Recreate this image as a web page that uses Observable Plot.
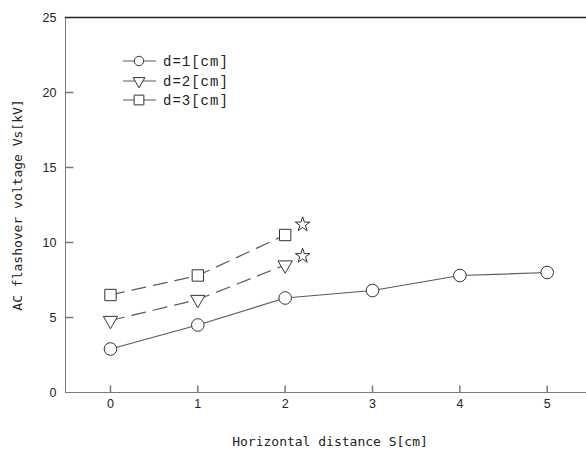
<!DOCTYPE html>
<html>
<head>
<meta charset="utf-8">
<script src="https://cdn.jsdelivr.net/npm/d3@7"></script>
<script src="https://cdn.jsdelivr.net/npm/@observablehq/plot@0.6"></script>
<style>
  body { margin: 0; background: #fff; }
  #chart { position: relative; width: 586px; height: 450px; }
</style>
</head>
<body>
<div id="chart"></div>
<script>
// ---- data ----
const distances = [0, 1, 2, 3, 4, 5];
const seriesNames = ["d=1[cm]", "d=2[cm]", "d=3[cm]"];
const d1Values = [2.9, 4.5, 6.3, 6.8, 7.8, 8.0];
const d2Values = [4.8, 6.2, 8.5];
const d3Values = [6.5, 7.8, 10.5];
const starX = [2.2, 2.2];
const starY = [11.2, 9.1];
const xTicks = [0, 1, 2, 3, 4, 5];
const yTicks = [0, 5, 10, 15, 20, 25];
const xLabel = "Horizontal distance S[cm]";
const yLabel = "AC flashover voltage Vs[kV]";

const d1 = d1Values.map((v, i) => ({x: distances[i], y: v}));
const d2 = d2Values.map((v, i) => ({x: distances[i], y: v}));
const d3s = d3Values.map((v, i) => ({x: distances[i], y: v}));
const stars = starX.map((x, i) => ({x, y: starY[i]}));

const lineColor = "#5a5a5a";
const markColor = "#333";
const axisColor = "#7a7a7a";
const tickFont = "Liberation Sans, Arial, sans-serif";
const monoFont = "DejaVu Sans Mono, monospace";

// custom inward tick symbols
const yTickSym = {draw(ctx) { ctx.moveTo(0, 0); ctx.lineTo(8, 0); }};
const xTickSym = {draw(ctx) { ctx.moveTo(0, 0); ctx.lineTo(0, -7); }};

const plot = Plot.plot({
  width: 586,
  height: 450,
  marginLeft: 65,
  marginRight: 0,
  marginTop: 17,
  marginBottom: 58,
  x: {domain: [-0.515, 5.45]},
  y: {domain: [0, 25]},
  style: {background: "#fff"},
  marks: [
    Plot.frame({anchor: "left", stroke: axisColor}),
    Plot.frame({anchor: "bottom", stroke: axisColor}),
    Plot.frame({anchor: "top", stroke: "#222", strokeWidth: 1.5}),
    Plot.dot(yTicks.slice(1, -1), {y: d => d, frameAnchor: "left", symbol: yTickSym, stroke: axisColor, r: 1}),
    Plot.dot(xTicks, {x: d => d, frameAnchor: "bottom", symbol: xTickSym, stroke: axisColor, r: 1}),
    Plot.axisY({ticks: yTicks, tickFormat: d => String(d), tickSize: 0, tickPadding: 9, fontSize: 12.5, fontFamily: tickFont, fill: "#222", label: null}),
    Plot.axisX({ticks: xTicks, tickFormat: d => String(d), tickSize: 0, tickPadding: 7, fontSize: 12.5, fontFamily: tickFont, fill: "#222", label: null}),
    Plot.text([xLabel], {frameAnchor: "bottom", dy: 49, dx: 4, text: d => d, textAnchor: "middle", lineAnchor: "middle", fontFamily: monoFont, fontSize: 13, fill: "#222"}),
    Plot.text([yLabel], {frameAnchor: "left", dx: -48, rotate: -90, text: d => d, textAnchor: "middle", lineAnchor: "middle", fontFamily: monoFont, fontSize: 13, fill: "#222"}),
    Plot.line(d1, {x: "x", y: "y", stroke: lineColor, strokeWidth: 1.2}),
    Plot.line(d2, {x: "x", y: "y", stroke: lineColor, strokeWidth: 1.2, strokeDasharray: "14,8"}),
    Plot.line(d3s, {x: "x", y: "y", stroke: lineColor, strokeWidth: 1.2, strokeDasharray: "14,8"}),
    Plot.dot(d1, {x: "x", y: "y", symbol: "circle", r: 6.3, fill: "#fff", stroke: markColor, strokeWidth: 1}),
    Plot.dot(d2, {x: "x", y: "y", symbol: "triangle", rotate: 180, r: 5.3, fill: "#fff", stroke: markColor, strokeWidth: 1}),
    Plot.dot(d3s, {x: "x", y: "y", symbol: "square", r: 6.4, fill: "#fff", stroke: markColor, strokeWidth: 1}),
    Plot.dot(stars, {x: "x", y: "y", symbol: "star", r: 4.6, fill: "#fff", stroke: markColor, strokeWidth: 1})
  ]
});

// legend inside the plot area
const svg = d3.select(plot);
const legendSymbols = [
  {sym: d3.symbolCircle, size: 70, rot: 0},
  {sym: d3.symbolTriangle, size: 60, rot: 180},
  {sym: d3.symbolSquare, size: 95, rot: 0}
];
const rowY = [61, 81, 100];
const lg = svg.append("g").attr("text-anchor", "start");
seriesNames.forEach((name, i) => {
  const g = lg.append("g").attr("transform", `translate(0,${rowY[i]})`);
  g.append("line").attr("x1", 123).attr("x2", 156).attr("y1", 0).attr("y2", 0)
    .attr("stroke", lineColor).attr("stroke-width", 1.2);
  g.append("path")
    .attr("d", d3.symbol(legendSymbols[i].sym, legendSymbols[i].size)())
    .attr("transform", `translate(139,0) rotate(${legendSymbols[i].rot})`)
    .attr("fill", "#fff").attr("stroke", markColor);
  g.append("text").attr("x", 163).attr("y", 0).attr("dy", "0.35em")
    .attr("text-anchor", "start")
    .attr("font-family", "Liberation Mono, monospace").attr("font-size", 14)
    .attr("letter-spacing", "1px")
    .attr("fill", "#222").text(name);
});

document.getElementById("chart").appendChild(plot);
</script>
</body>
</html>
